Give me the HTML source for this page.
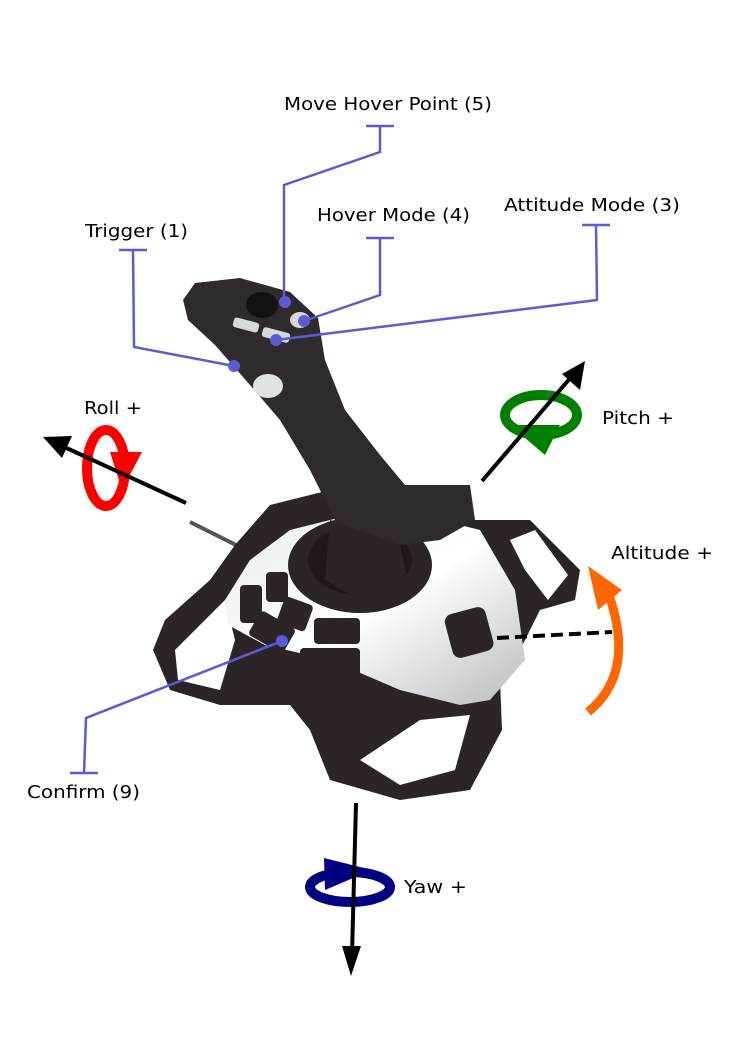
<!DOCTYPE html>
<html><head><meta charset="utf-8"><style>
html,body{margin:0;padding:0;background:#fff;}
svg{display:block}
text{font-family:"DejaVu Sans","Liberation Sans",sans-serif;font-size:18px;fill:#000}
</style></head><body>
<svg width="744" height="1052" viewBox="0 0 744 1052">
<defs>
<linearGradient id="sil" x1="0" y1="0" x2="1" y2="1">
<stop offset="0" stop-color="#e8eaec"/><stop offset="0.5" stop-color="#ffffff"/><stop offset="1" stop-color="#b8bcc0"/>
</linearGradient>
</defs>
<!-- cable -->
<path d="M190,522 L250,552" stroke="#555" stroke-width="4"/>
<!-- base dark -->
<path d="M270,505 L330,490 L400,500 L470,520 L530,520 L580,570 L575,600 L540,610 L520,650 L500,680 L502,730 L470,790 L400,800 L330,780 L310,730 L290,705 L220,705 L170,690 L153,650 L165,620 L210,580 L235,545 Z" fill="#2b2527"/>
<path d="M175,650 L225,600 L235,640 L220,690 L178,680 Z" fill="#fff"/>
<path d="M510,540 L535,530 L568,575 L548,600 L525,570 Z" fill="#fff"/>
<path d="M360,760 L420,720 L470,715 L455,770 L400,785 Z" fill="#fff"/>
<!-- silver plate -->
<path d="M225,600 L250,560 L290,530 L350,515 L440,520 L480,530 L515,590 L525,660 L490,700 L460,705 L400,690 L330,660 L265,645 L228,625 Z" fill="url(#sil)"/>
<g fill="#2b2527">
<rect x="240" y="585" width="22" height="38" rx="4"/>
<rect x="266" y="572" width="22" height="30" rx="4"/>
<rect x="280" y="600" width="30" height="28" rx="4" transform="rotate(20 295 614)"/>
<rect x="252" y="618" width="40" height="28" rx="4" transform="rotate(30 272 632)"/>
<rect x="314" y="618" width="46" height="26" rx="4"/>
<rect x="300" y="648" width="60" height="28" rx="4"/>
<rect x="448" y="610" width="42" height="45" rx="8" transform="rotate(-15 469 632)"/>
</g>
<ellipse cx="360" cy="565" rx="72" ry="48" fill="#2b2527"/>
<ellipse cx="360" cy="560" rx="52" ry="35" fill="#1d1819"/>
<!-- stick -->
<path d="M183,300 L195,283 L240,278 L290,292 L318,318 L325,360 L345,410 L380,455 L405,485 L470,485 L475,520 L440,540 L400,545 L340,530 L310,470 L280,420 L250,385 L215,345 L188,320 Z" fill="#2f2a2c"/>
<path d="M330,520 L400,545 L410,590 L360,600 L325,580 Z" fill="#2b2527"/>
<ellipse cx="268" cy="386" rx="15" ry="12" fill="#dfe1e3"/>
<ellipse cx="262" cy="305" rx="16" ry="13" fill="#151112"/>
<rect x="233" y="320" width="26" height="10" rx="3" fill="#d6d8da" transform="rotate(15 246 325)"/>
<rect x="262" y="330" width="28" height="10" rx="3" fill="#d6d8da" transform="rotate(15 276 335)"/>
<ellipse cx="300" cy="320" rx="10" ry="8" fill="#d6d8da"/>
<!-- leader lines -->
<g stroke="#5b5bd6" stroke-width="2.5" fill="none">
<path d="M366,126 H394 M380,126 V152 L284,185 V302"/>
<path d="M366,238 H394 M380,238 V295 L304,321"/>
<path d="M582,225 H610 M596,225 L597,300 L276,340"/>
<path d="M119,250 H147 M133,250 L134,347 L234,366"/>
<path d="M70,773 H98 M84,773 L86,718 L282,641"/>
</g>
<g fill="#5b5bd6">
<circle cx="285" cy="302" r="6"/><circle cx="304" cy="321" r="6"/><circle cx="276" cy="340" r="6"/><circle cx="234" cy="366" r="6"/><circle cx="282" cy="641" r="6"/>
</g>
<!-- rings -->
<ellipse cx="106" cy="468" rx="19" ry="38" fill="none" stroke="#f00" stroke-width="10"/>
<path d="M110,452 L142,452 L122,490 Z" fill="#f00"/>
<ellipse cx="541" cy="415" rx="36" ry="20" fill="none" stroke="#008000" stroke-width="10"/>
<path d="M510,425 L560,425 L545,455 Z" fill="#008000"/>
<ellipse cx="350" cy="887" rx="40" ry="15" fill="none" stroke="#000080" stroke-width="10"/>
<path d="M324,858 L372,870 L325,890 Z" fill="#000080"/>
<path d="M588,712 Q640,670 604,582" fill="none" stroke="#ff6600" stroke-width="9"/>
<path d="M588,566 L622,590 L598,610 Z" fill="#ff6600"/>
<!-- axes -->
<g stroke="#000" stroke-width="4">
<line x1="186" y1="503" x2="60" y2="445"/>
<line x1="482" y1="481" x2="572" y2="376"/>
<line x1="356" y1="803" x2="352" y2="955"/>
<line x1="497" y1="638" x2="612" y2="632" stroke-dasharray="12,6"/>
</g>
<path d="M43,437 L72,436 L62,458 Z" fill="#000"/>
<path d="M585,361 L580,390 L562,374 Z" fill="#000"/>
<path d="M351,976 L342,946 L361,946 Z" fill="#000"/>
<!-- labels -->
<text x="284" y="110" textLength="208" lengthAdjust="spacingAndGlyphs">Move Hover Point (5)</text>
<text x="317" y="221" textLength="153" lengthAdjust="spacingAndGlyphs">Hover Mode (4)</text>
<text x="504" y="211" textLength="176" lengthAdjust="spacingAndGlyphs">Attitude Mode (3)</text>
<text x="85" y="237" textLength="103" lengthAdjust="spacingAndGlyphs">Trigger (1)</text>
<text x="84" y="414" textLength="58" lengthAdjust="spacingAndGlyphs">Roll +</text>
<text x="602" y="424" textLength="72" lengthAdjust="spacingAndGlyphs">Pitch +</text>
<text x="611" y="559" textLength="102" lengthAdjust="spacingAndGlyphs">Altitude +</text>
<text x="27" y="798" textLength="113" lengthAdjust="spacingAndGlyphs">Confirm (9)</text>
<text x="404" y="893" textLength="63" lengthAdjust="spacingAndGlyphs">Yaw +</text>
</svg>
</body></html>
